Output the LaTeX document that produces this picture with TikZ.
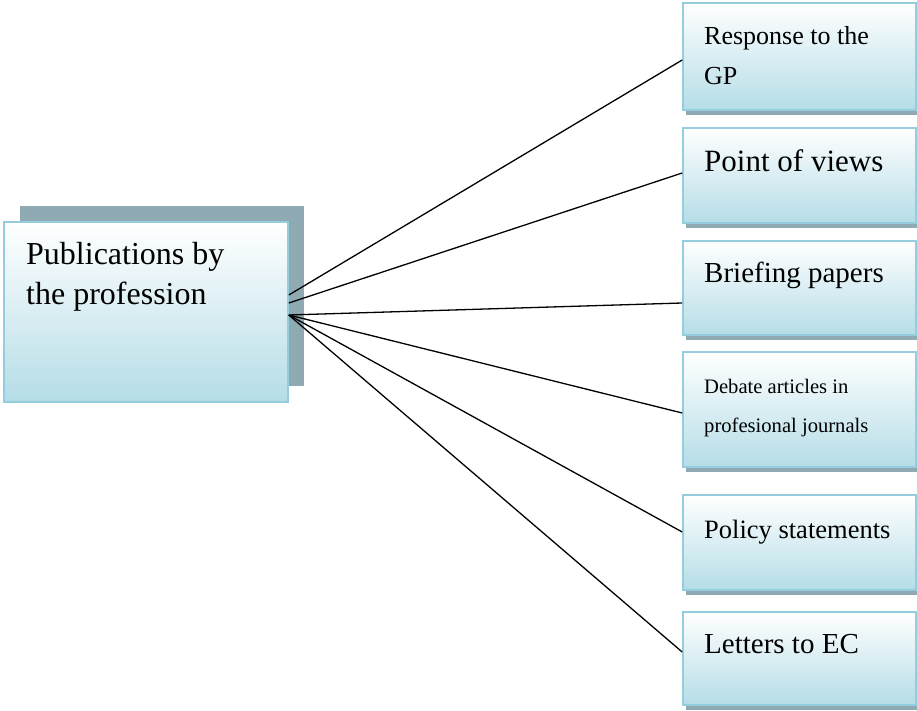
\documentclass[tikz,border=0pt]{standalone}
\usepackage{xcolor}
\usepackage{fontspec}
\setmainfont{Liberation Serif}
\usepackage{tikz}
\usetikzlibrary{shadows}

\definecolor{boxblue}{RGB}{181,221,231}
\definecolor{boxedge}{RGB}{148,206,222}
\definecolor{shadowgrey}{RGB}{143,170,178}

\tikzset{
  plainbox/.style={draw=boxedge, line width=1.6pt, top color=white, bottom color=boxblue, inner sep=0pt},
  pubbox/.style={plainbox,
    drop shadow={shadow xshift=3pt, shadow yshift=-5pt, fill=shadowgrey, opacity=1}},
  hubbox/.style={plainbox,
    drop shadow={shadow xshift=16pt, shadow yshift=16pt, fill=shadowgrey, opacity=1}},
  boxtext/.style={anchor=base west, inner sep=0pt, align=left},
  link/.style={line width=1.3pt}
}

\begin{document}
\begin{tikzpicture}[x=1pt,y=1pt]
\useasboundingbox (0,0) rectangle (917,710);
\node [hubbox, minimum width=284pt, minimum height=180pt] (pub) at (146,398) {};
\node [pubbox, minimum width=233pt, minimum height=107pt] (resp) at (799.5,653.5) {};
\node [pubbox, minimum width=233pt, minimum height=95pt] (view) at (799.5,534.5) {};
\node [pubbox, minimum width=233pt, minimum height=94pt] (brief) at (799.5,422) {};
\node [pubbox, minimum width=233pt, minimum height=115pt] (debate) at (799.5,300.5) {};
\node [pubbox, minimum width=233pt, minimum height=95pt] (policy) at (799.5,167.5) {};
\node [pubbox, minimum width=233pt, minimum height=93pt] (letter) at (799.5,51.5) {};
%Text
\node [boxtext, font=\fontsize{32}{40}\selectfont] (pub-t) at (26,405) {Publications by\\the profession};
\node [boxtext, font=\fontsize{26}{40}\selectfont] (resp-t) at (704,625) {Response to the\\GP};
\node [boxtext, font=\fontsize{31}{40}\selectfont] (view-t) at (704,538) {Point of views};
\node [boxtext, font=\fontsize{29}{40}\selectfont] (brief-t) at (704,427) {Briefing papers};
\node [boxtext, font=\fontsize{20.6}{39}\selectfont] (debate-t) at (704,278) {Debate articles in\\profesional journals};
\node [boxtext, font=\fontsize{26.5}{40}\selectfont] (policy-t) at (704,172) {Policy statements};
\node [boxtext, font=\fontsize{29}{40}\selectfont] (letter-t) at (704,57) {Letters to EC};
%Lines
\coordinate (hub-a) at ([yshift=17pt]pub.east);
\coordinate (hub-b) at ([yshift=9pt]pub.east);
\coordinate (hub-c) at ([yshift=-3pt]pub.east);
\draw [link] (hub-a) -- ([yshift=-3.5pt]resp.west);
\draw [link] (hub-b) -- ([yshift=2.5pt]view.west);
\draw [link] (hub-c) -- ([yshift=-15pt]brief.west);
\draw [link] (hub-c) -- ([yshift=-3.5pt]debate.west);
\draw [link] (hub-c) -- ([yshift=10.5pt]policy.west);
\draw [link] (hub-c) -- ([yshift=6.5pt]letter.west);
\end{tikzpicture}
\end{document}
